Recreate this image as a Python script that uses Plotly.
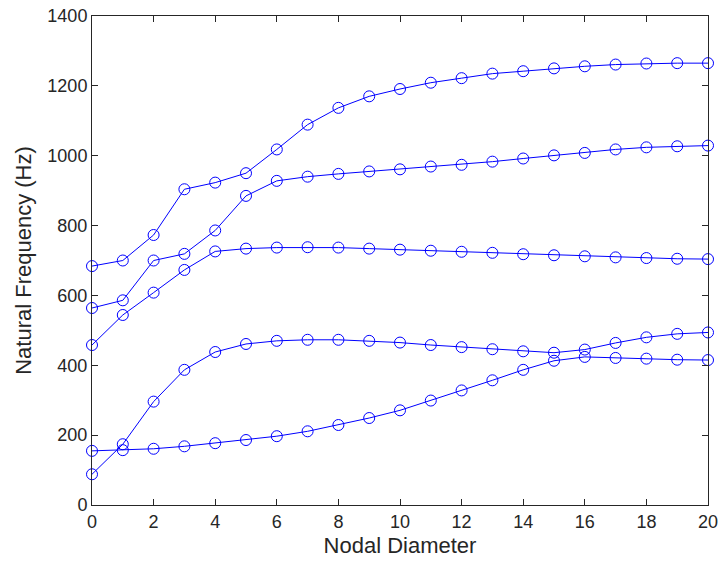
import plotly.graph_objects as go

nodal_diameter = list(range(21))

mode_1 = [88, 174, 296, 387, 438, 461, 470, 473, 473, 470, 465, 458, 452, 446, 440, 436, 445, 464, 480, 490, 494]
mode_2 = [155, 157, 161, 168, 177, 186, 197, 211, 229, 249, 271, 299, 328, 357, 387, 413, 424, 421, 419, 416, 415]
mode_3 = [458, 544, 608, 673, 726, 734, 737, 738, 737, 734, 731, 728, 725, 722, 718, 715, 712, 709, 707, 705, 704]
mode_4 = [564, 586, 700, 719, 786, 885, 928, 940, 948, 955, 961, 969, 974, 983, 992, 1001, 1008, 1018, 1024, 1027, 1029]
mode_5 = [684, 700, 773, 904, 923, 950, 1018, 1089, 1137, 1170, 1191, 1209, 1222, 1235, 1242, 1250, 1256, 1261, 1264, 1265, 1265]

x_ticks = list(range(0, 21, 2))
y_ticks = list(range(0, 1401, 200))

fig = go.Figure()

for ys in [mode_1, mode_2, mode_3, mode_4, mode_5]:
    fig.add_trace(go.Scatter(
        x=nodal_diameter,
        y=ys,
        mode='lines+markers',
        line=dict(color='#0000ff', width=1),
        marker=dict(symbol='circle-open', size=11, color='#0000ff', line=dict(width=1)),
        showlegend=False,
        cliponaxis=False,
    ))

axis_style = dict(
    showline=True,
    linecolor='#262626',
    linewidth=1,
    mirror='ticks',
    ticks='inside',
    ticklen=6,
    tickcolor='#262626',
    showgrid=False,
    zeroline=False,
    automargin=False,
    tickfont=dict(size=18, color='#262626'),
)

fig.update_xaxes(
    range=[0, 20],
    tickvals=x_ticks,
    title=dict(text='Nodal Diameter', font=dict(size=22, color='#262626'), standoff=7),
    **axis_style,
)
fig.update_yaxes(
    range=[0, 1400],
    tickvals=y_ticks,
    title=dict(text='Natural Frequency (Hz)', font=dict(size=22, color='#262626'), standoff=9),
    **axis_style,
)

fig.update_layout(
    width=720,
    height=561,
    margin=dict(l=92, r=12, t=16, b=56),
    paper_bgcolor='white',
    plot_bgcolor='white',
    font=dict(family='Liberation Sans, Arial, sans-serif'),
)

# drop the default body margin so the figure sits flush in the window
fig.write_html(
    "out.html",
    config={'displayModeBar': False},
    post_script="document.body.style.margin='0';document.body.style.overflow='hidden';",
)
